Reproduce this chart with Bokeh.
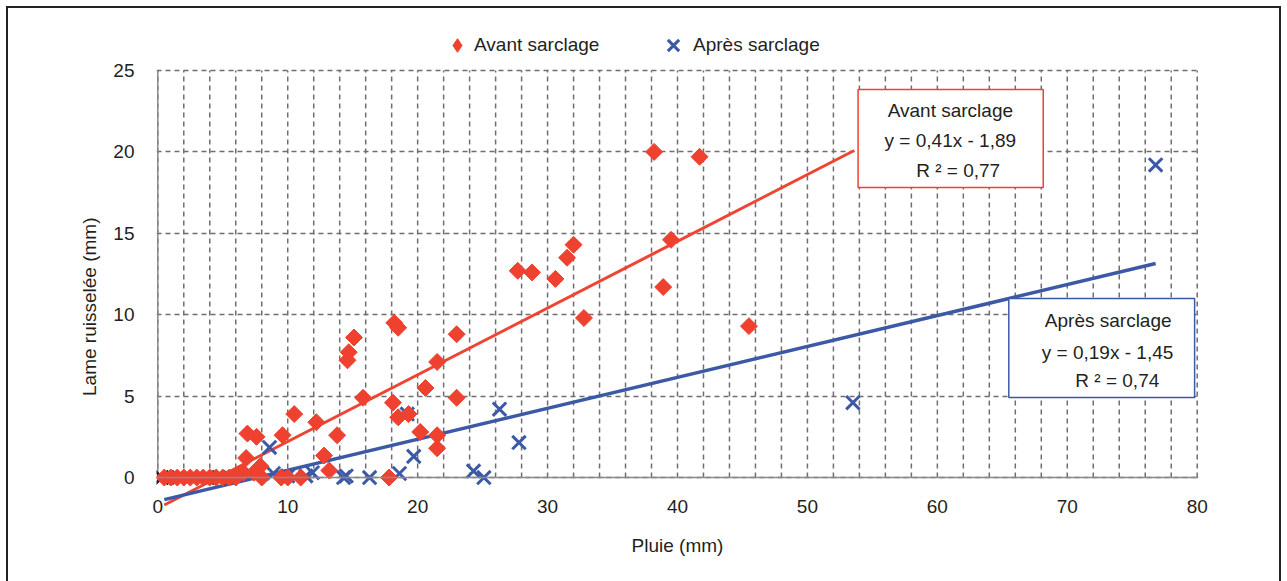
import numpy as np
from bokeh.plotting import figure
from bokeh.models import (Range1d, SingleIntervalTicker, Legend, LegendItem,
                          BoxAnnotation, Label, Span)
from bokeh.embed import file_html
from bokeh.resources import INLINE

# ---------------- data ----------------
avant_x = [0.5, 1.0, 1.5, 2.0, 2.5, 3.0, 3.5, 4.0, 4.5, 5.0, 5.5, 6.0, 6.2, 6.6,
           6.8, 6.9, 7.4, 7.6, 7.9, 8.0, 9.5, 9.6, 10.0, 10.5, 11.0, 12.2, 12.8,
           13.2, 13.8, 14.6, 14.7, 15.1, 15.8, 17.8, 18.1, 18.2, 18.5, 18.5, 19.3,
           20.2, 20.6, 21.5, 21.5, 21.5, 23.0, 23.0, 27.7, 28.8, 30.6, 31.5, 32.0,
           32.8, 38.2, 38.9, 39.5, 41.7, 45.5]
avant_y = [0, 0, 0, 0, 0, 0, 0, 0, 0, 0, 0, 0, 0.2, 0.3,
           1.2, 2.7, 0.3, 2.5, 0.7, 0, 0, 2.6, 0, 3.9, 0, 3.4, 1.35,
           0.43, 2.6, 7.2, 7.7, 8.6, 4.9, 0, 4.6, 9.5, 9.2, 3.7, 3.9,
           2.8, 5.5, 7.1, 2.6, 1.8, 8.8, 4.9, 12.7, 12.6, 12.2, 13.5, 14.3,
           9.8, 20.0, 11.7, 14.6, 19.7, 9.3]

apres_x = [8.6, 8.9, 10.0, 11.4, 11.9, 14.3, 14.5, 16.3, 18.6, 19.2, 19.7,
           24.3, 25.1, 26.3, 27.8, 53.5, 76.8]
apres_y = [1.85, 0.25, 0.1, 0.1, 0.3, 0, 0.1, 0, 0.25, 3.9, 1.3,
           0.4, 0, 4.2, 2.15, 4.6, 19.2]
# Après points at the origin (printed dark under the red diamonds)
apres0_x = [0.3, 1.6, 4.7]
apres0_y = [0, 0, 0]

# trendlines (y = a x + b) and their x spans
trend_avant = {"a": 0.41, "b": -1.89, "x": [0.5, 53.6]}
trend_apres = {"a": 0.19, "b": -1.45, "x": [0.5, 76.8]}

x_ticks = [0, 10, 20, 30, 40, 50, 60, 70, 80]
y_ticks = [0, 5, 10, 15, 20, 25]
x_grid = list(range(0, 81, 2))

RED = "#EE4130"
BLUE = "#3B59A6"
TXT = "#231F20"
FONT = "Liberation Sans"
FS = "19px"
GRID = "#6E6E6E"
AXIS = "#8A8A8A"

p = figure(width=1287, height=581, x_range=Range1d(-0.1, 80.1), y_range=Range1d(-1.9, 28.07),
           output_backend="svg", toolbar_location=None,
           min_border_left=156, min_border_right=89, min_border_top=20, min_border_bottom=73)
p.styles = {"background": "linear-gradient(#222,#222) 6px 6px / 2px 700px no-repeat, "
                          "linear-gradient(#222,#222) 6px 6px / 1275px 2px no-repeat, "
                          "linear-gradient(#222,#222) 1279px 6px / 2px 700px no-repeat, #ffffff"}
p.outline_line_color = None
p.background_fill_color = "white"
p.border_fill_alpha = 0

# grid
p.xgrid.visible = False
p.ygrid.ticker = SingleIntervalTicker(interval=5)
p.ygrid.grid_line_color = GRID
p.ygrid.grid_line_dash = "5 4"
p.ygrid.grid_line_width = 1.5
p.segment(x0=x_grid, y0=[0] * len(x_grid), x1=x_grid, y1=[25] * len(x_grid),
          line_color=GRID, line_dash="5 4", line_width=1.5)
# axis lines at x = 0 and y = 0
p.add_layout(Span(location=0, dimension="width", line_color=AXIS, line_width=1.5))
p.segment(x0=[0], y0=[0], x1=[0], y1=[25], line_color=AXIS, line_width=1.5)

# axes
p.xaxis.ticker = x_ticks
p.yaxis.ticker = y_ticks
p.yaxis.bounds = (0, 25)
for ax in (p.xaxis, p.yaxis):
    ax.axis_line_color = None
    ax.major_tick_line_color = None
    ax.minor_tick_line_color = None
    ax.major_tick_out = 0
    ax.major_tick_in = 0
    ax.minor_tick_out = 0
    ax.major_label_text_font = FONT
    ax.major_label_text_font_size = FS
    ax.major_label_text_color = TXT
    ax.axis_label_text_font = FONT
    ax.axis_label_text_font_size = FS
    ax.axis_label_text_font_style = "normal"
    ax.axis_label_text_color = TXT
p.xaxis.axis_label = "Pluie (mm)"
# trailing no-break spaces move the rotated title down, as in the original
p.yaxis.axis_label = "Lame ruisselée (mm)" + "\u00a0" * 16
p.xaxis.major_label_standoff = -9
p.yaxis.major_label_standoff = 22
p.xaxis.axis_label_standoff = 19
p.yaxis.axis_label_standoff = 10

# trendlines
tx = trend_avant["x"]
p.line(tx, [trend_avant["a"] * v + trend_avant["b"] for v in tx], line_color="#EE4433", line_width=3)
tx2 = trend_apres["x"]
p.line(tx2, [trend_apres["a"] * v + trend_apres["b"] for v in tx2], line_color=BLUE, line_width=3.5)

# points
p.scatter(apres0_x, apres0_y, marker="x", size=19, line_color="#1E1E1E", line_width=3)
r_apres = p.scatter(apres_x, apres_y, marker="x", size=19, line_color=BLUE, line_width=3)
# legend symbol renderer (upright diamond), fully covered by the rotated squares below
r_avant_leg = p.scatter(avant_x, avant_y, marker="diamond", size=9,
                        fill_color=RED, line_color=RED, line_width=1)
p.scatter(avant_x, avant_y, marker="square", angle=np.pi / 4, size=12,
          fill_color=RED, line_color=RED, line_width=1)

# legends (two, so each symbol keeps its own size)
leg1 = Legend(items=[LegendItem(label="Avant sarclage", renderers=[r_avant_leg])],
              location=(284, 446), orientation="horizontal", glyph_width=34, glyph_height=34,
              label_standoff=0, padding=0, margin=0, border_line_color=None,
              background_fill_alpha=0, label_text_font=FONT, label_text_font_size=FS,
              label_text_color=TXT)
leg2 = Legend(items=[LegendItem(label="Après sarclage", renderers=[r_apres])],
              location=(497, 443), orientation="horizontal", glyph_width=40, glyph_height=40,
              label_standoff=0, padding=0, margin=0, border_line_color=None,
              background_fill_alpha=0, label_text_font=FONT, label_text_font_size=FS,
              label_text_color=TXT)
p.add_layout(leg1, "center")
p.add_layout(leg2, "center")

# equation boxes
p.add_layout(BoxAnnotation(left=53.9, right=68.15, top=23.83, bottom=17.81,
                           fill_color="white", fill_alpha=1, line_color=RED, line_alpha=1,
                           line_width=1.5))
p.add_layout(BoxAnnotation(left=65.5, right=79.8, top=11.0, bottom=4.91,
                           fill_color="white", fill_alpha=1, line_color=BLUE, line_alpha=1,
                           line_width=1.5))
labels = [
    ("Avant sarclage", 61.0, 22.54), ("y = 0,41x - 1,89", 61.0, 20.70), ("R ² = 0,77", 61.6, 18.86),
    ("Après sarclage", 73.15, 9.64), ("y = 0,19x - 1,45", 73.1, 7.68), ("R ² = 0,74", 73.85, 5.96),
]
for t, x, y in labels:
    p.add_layout(Label(x=x, y=y, text=t, text_align="center", text_baseline="middle",
                       text_font=FONT, text_font_size=FS, text_color=TXT))

open("out.html", "w").write(file_html(p, INLINE))
